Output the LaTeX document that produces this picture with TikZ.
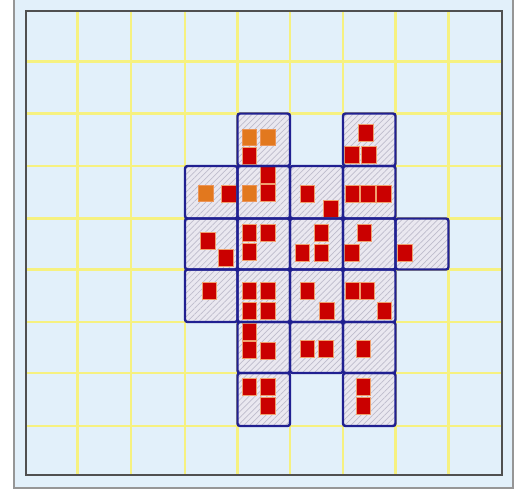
\documentclass[tikz,border=0pt]{standalone}
\usetikzlibrary{patterns.meta}
\definecolor{bgblue}{RGB}{226,240,250}
\definecolor{gridyellow}{RGB}{246,241,128}
\definecolor{cellfill}{RGB}{234,232,240}
\definecolor{hatchcol}{RGB}{190,188,204}
\definecolor{navy}{RGB}{32,32,145}
\definecolor{sqred}{RGB}{202,0,0}
\definecolor{sqorange}{RGB}{226,120,30}
\definecolor{sqedge}{RGB}{240,160,110}
\definecolor{framegray}{RGB}{80,80,80}
\definecolor{panelgray}{RGB}{150,150,150}
\tikzset{
  gridline/.style={gridyellow, line width=2.8pt},
  cellbg/.style={fill=cellfill},
  cellhatch/.style={pattern={Lines[angle=45,distance=4.2pt,line width=0.7pt]}, pattern color=hatchcol},
  cellborder/.style={draw=navy, line width=2.4pt, rounded corners=2.5pt},
  redsq/.style={fill=sqred, draw=sqedge, line width=0.5pt},
  orangesq/.style={fill=sqorange, draw=sqedge!70!sqorange, line width=0.5pt},
}
\newcommand{\rsq}[2]{\path[redsq] (#1,#2) rectangle ++(14.5,17);}
\newcommand{\osq}[2]{\path[orangesq] (#1,#2) rectangle ++(14.5,16.5);}
\begin{document}
\begin{tikzpicture}[x=1pt,y=-1pt]
\useasboundingbox (0,0) rectangle (530,491);
\fill[white] (0,0) rectangle (530,491);
\fill[bgblue] (14,-2) rectangle (513,488);
\draw[panelgray, line width=1.2pt] (14,-2) -- (14,488) -- (513,488) -- (513,-2);
% grid
\foreach \x in {77.5,131,185,237.5,290,343,395.5,448.5}
  \draw[gridline] (\x,11) -- (\x,475);
\foreach \y in {61.5,113.5,166,218.5,269.5,322,373,426}
  \draw[gridline] (26,\y) -- (502,\y);
\draw[framegray, line width=1.5pt] (26,11) rectangle (502,475);
% occupied cells
\def\xe{{26,77.5,131,185,237.5,290,343,395.5,448.5,502}}
\def\ye{{11,61.5,113.5,166,218.5,269.5,322,373,426,475}}
\def\cells{2/4,2/6,3/3,3/4,3/5,3/6,4/3,4/4,4/5,4/6,4/7,5/3,5/4,5/5,5/6,6/4,6/5,6/6,7/4,7/6}
\foreach \r/\c in \cells {
  \pgfmathsetmacro\xa{\xe[\c]}
  \pgfmathsetmacro\xb{\xe[\c+1]}
  \pgfmathsetmacro\ya{\ye[\r]}
  \pgfmathsetmacro\yb{\ye[\r+1]}
  \fill[cellbg] (\xa,\ya) rectangle (\xb,\yb);
  \fill[cellhatch] (\xa,\ya) rectangle (\xb,\yb);
}
% particles
\osq{242}{129}\osq{260.5}{129}\rsq{242}{147.5}
\rsq{358.5}{124}\rsq{344.5}{146.5}\rsq{361.5}{146.5}
\osq{198.5}{185}\rsq{221.5}{185}
\osq{242}{185}\rsq{260.5}{166.5}\rsq{260.5}{184.5}
\rsq{300}{185}\rsq{323.5}{200}
\rsq{345}{185}\rsq{360.5}{185}\rsq{376.5}{185}
\rsq{200.5}{232}\rsq{218.5}{249}
\rsq{242}{224.5}\rsq{260.5}{224.5}\rsq{242}{243.5}
\rsq{314}{224.5}\rsq{295}{244.5}\rsq{314}{244.5}
\rsq{357}{224.5}\rsq{344.5}{244.5}
\rsq{397.5}{244.5}
\rsq{202}{282.5}
\rsq{242}{282.5}\rsq{242}{302}\rsq{260.5}{282.5}\rsq{260.5}{302}
\rsq{300}{282.5}\rsq{319.5}{302.5}
\rsq{345}{282.5}\rsq{360}{282.5}\rsq{377}{302.5}
\rsq{242}{323}\rsq{242}{341}\rsq{260.5}{342}
\rsq{300}{340}\rsq{318.5}{340}
\rsq{356}{340}
\rsq{242}{378.5}\rsq{260.5}{378.5}\rsq{260.5}{397}
\rsq{356}{378.5}\rsq{356}{397}
% cell borders
\foreach \r/\c in \cells {
  \pgfmathsetmacro\xa{\xe[\c]}
  \pgfmathsetmacro\xb{\xe[\c+1]}
  \pgfmathsetmacro\ya{\ye[\r]}
  \pgfmathsetmacro\yb{\ye[\r+1]}
  \draw[cellborder] (\xa,\ya) rectangle (\xb,\yb);
}
\end{tikzpicture}
\end{document}
